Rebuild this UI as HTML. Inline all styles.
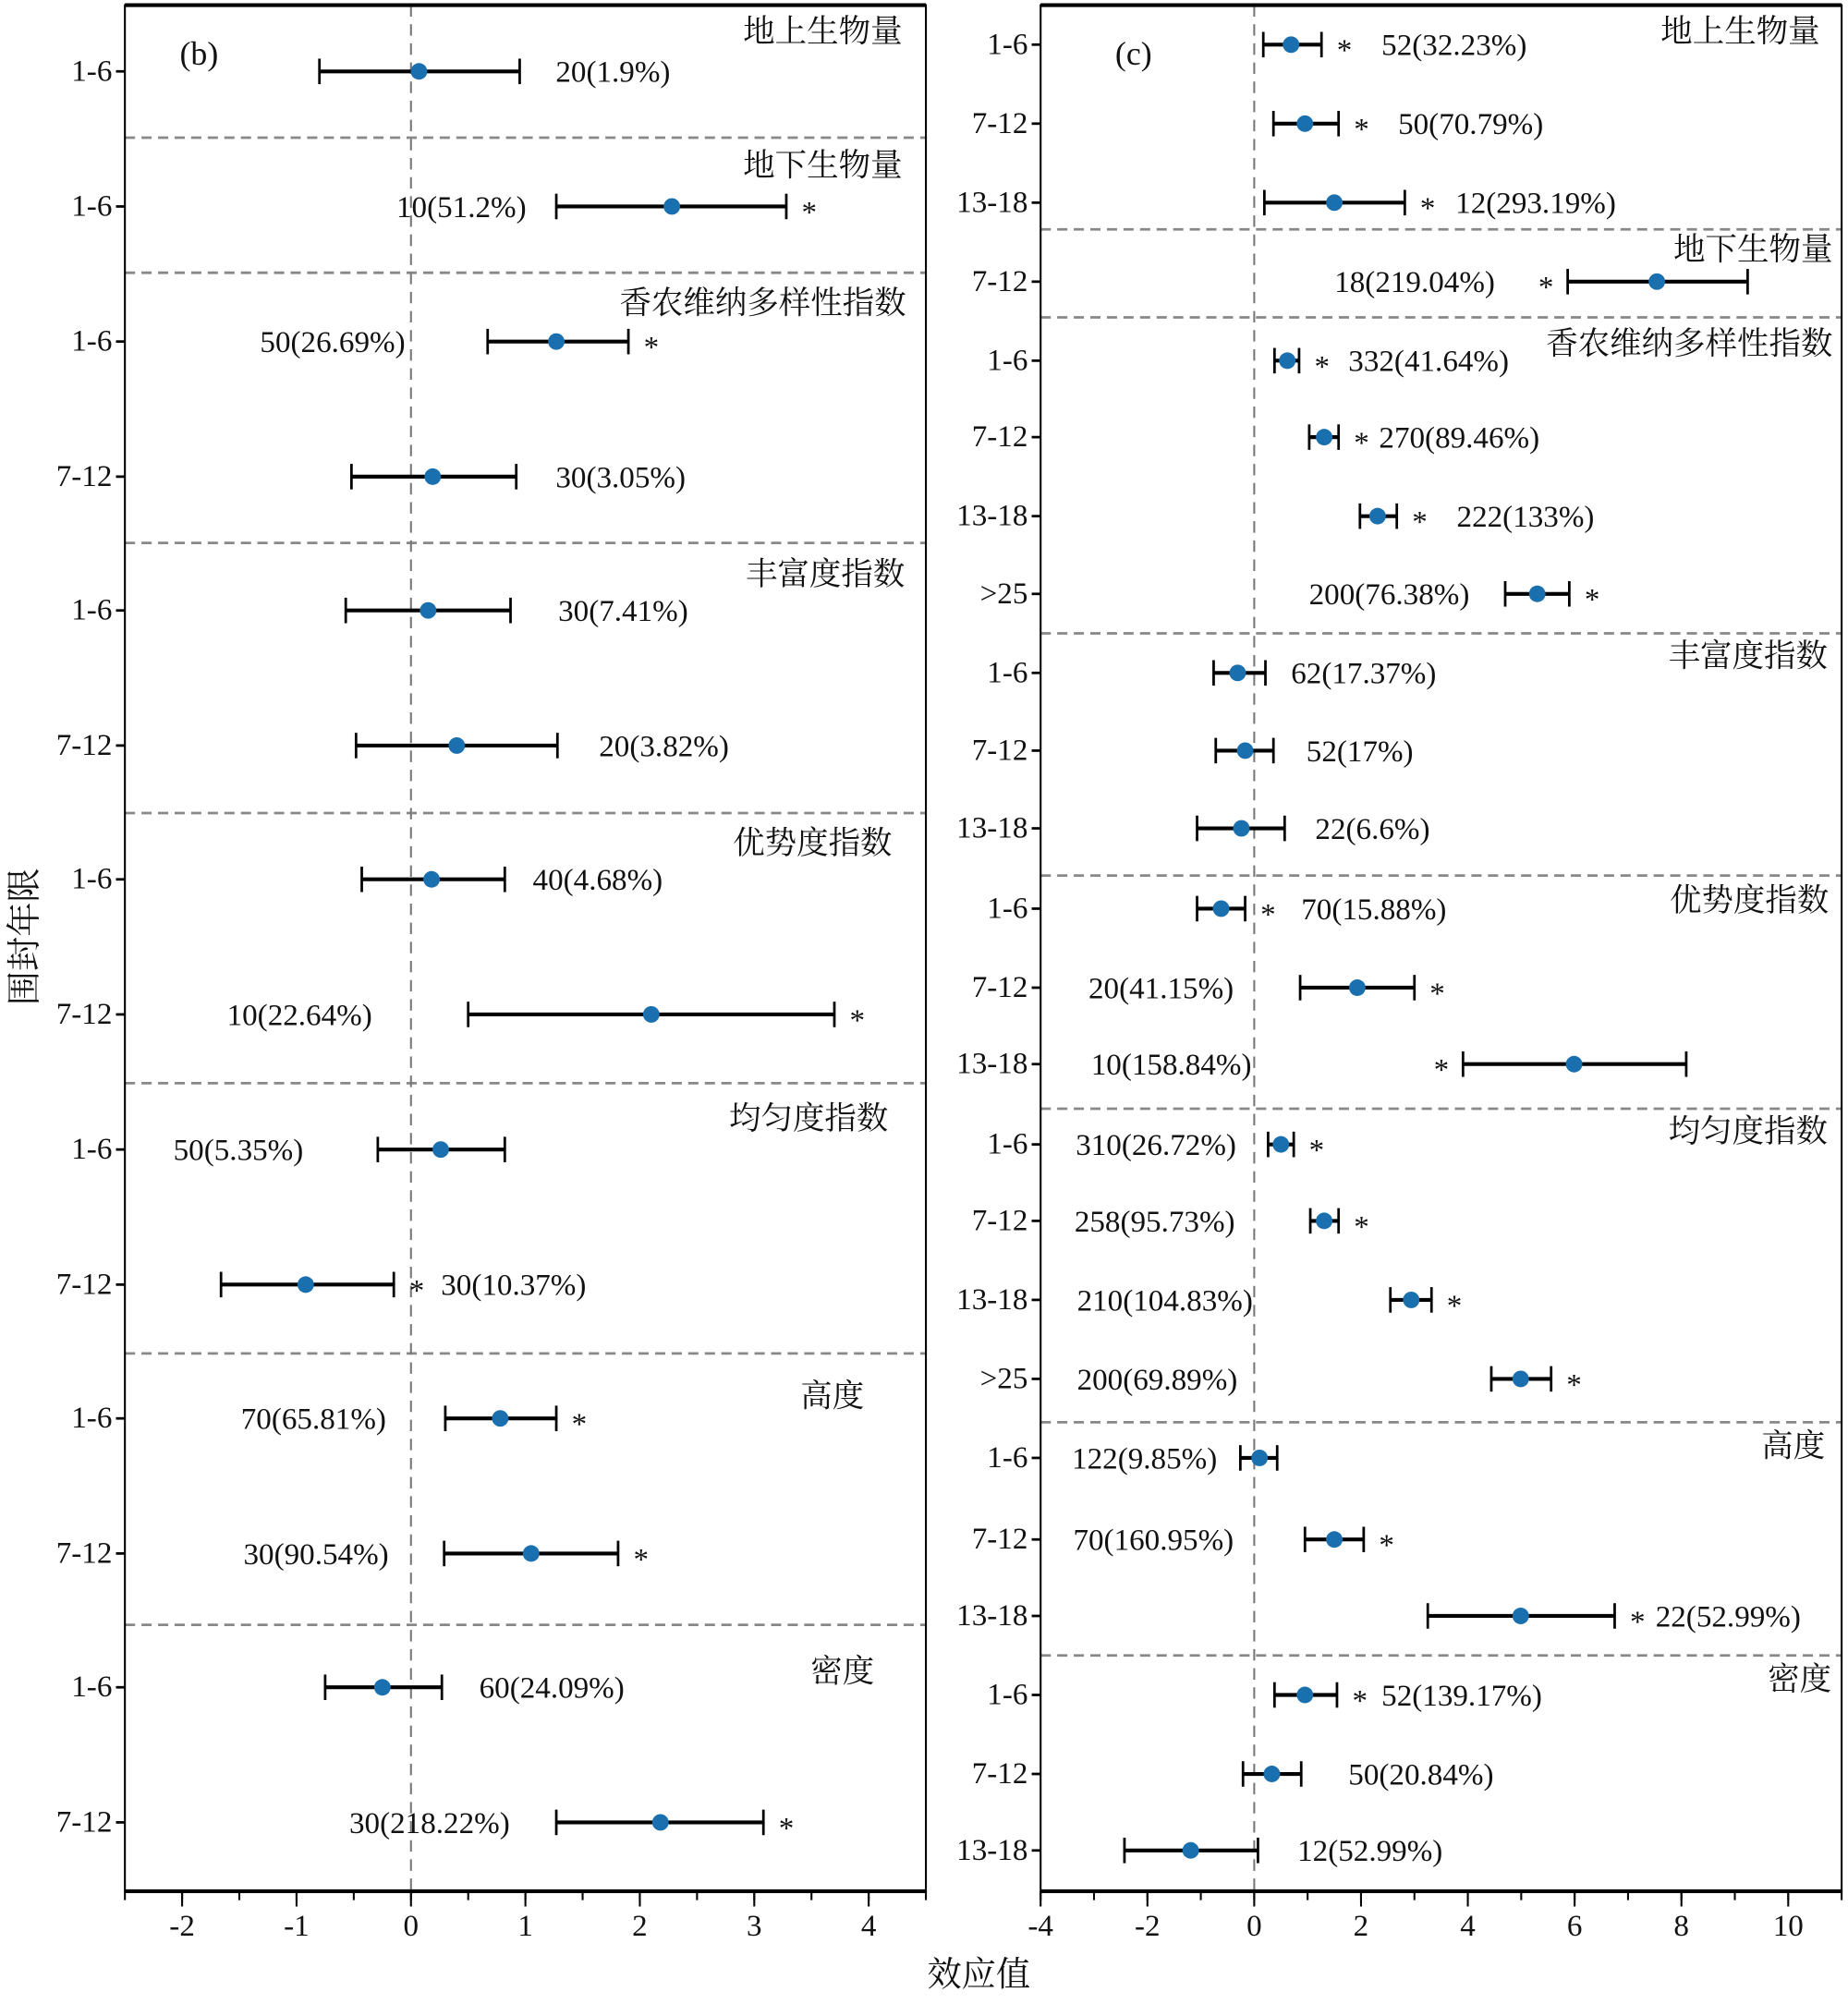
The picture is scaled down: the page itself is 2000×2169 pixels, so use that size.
<!DOCTYPE html>
<html><head><meta charset="utf-8"><style>
body{margin:0;background:#fff}
svg{display:block}
text{font-family:"Liberation Serif","Noto Serif CJK SC","Noto Sans CJK SC",serif;fill:#111}
</style></head><body>
<svg id="chart" width="2000" height="2169" viewBox="0 0 1450 1572.5" xmlns="http://www.w3.org/2000/svg"></svg>
<script>
// ---------- Panel b data ----------
const bCats=["1-6","1-6","1-6","7-12","1-6","7-12","1-6","7-12","1-6","7-12","1-6","7-12","1-6","7-12"];
const bMean=[0.07,2.28,1.27,0.19,0.15,0.4,0.18,2.1,0.26,-0.92,0.78,1.05,-0.25,2.18];
const bLo=[-0.8,1.27,0.67,-0.52,-0.57,-0.48,-0.43,0.5,-0.29,-1.66,0.3,0.29,-0.75,1.27];
const bHi=[0.95,3.28,1.9,0.92,0.87,1.28,0.82,3.7,0.82,-0.15,1.27,1.81,0.27,3.08];
const bLabels=["20(1.9%)","10(51.2%)","50(26.69%)","30(3.05%)","30(7.41%)","20(3.82%)","40(4.68%)","10(22.64%)","50(5.35%)","30(10.37%)","70(65.81%)","30(90.54%)","60(24.09%)","30(218.22%)"];
const bStar=[0,1,1,0,0,0,0,1,0,1,1,1,0,1];
const bGroups=["地上生物量","地下生物量","香农维纳多样性指数","丰富度指数","优势度指数","均匀度指数","高度","密度"];
const bTicks=[-2,-1,0,1,2,3,4];
// ---------- Panel c data ----------
const cCats=["1-6","7-12","13-18","7-12","1-6","7-12","13-18",">25","1-6","7-12","13-18","1-6","7-12","13-18","1-6","7-12","13-18",">25","1-6","7-12","13-18","1-6","7-12","13-18"];
const cMean=[0.69,0.95,1.5,7.54,0.62,1.31,2.31,5.3,-0.31,-0.17,-0.24,-0.62,1.93,5.99,0.5,1.31,2.94,4.99,0.1,1.5,4.99,0.95,0.33,-1.19];
const cLo=[0.17,0.36,0.19,5.87,0.38,1.03,1.98,4.7,-0.76,-0.72,-1.07,-1.07,0.86,3.91,0.26,1.05,2.55,4.44,-0.26,0.95,3.25,0.38,-0.21,-2.43];
const cHi=[1.26,1.58,2.82,9.24,0.84,1.58,2.67,5.9,0.21,0.36,0.57,-0.17,3.0,8.09,0.74,1.58,3.32,5.56,0.43,2.05,6.75,1.55,0.88,0.07];
const cLabels=["52(32.23%)","50(70.79%)","12(293.19%)","18(219.04%)","332(41.64%)","270(89.46%)","222(133%)","200(76.38%)","62(17.37%)","52(17%)","22(6.6%)","70(15.88%)","20(41.15%)","10(158.84%)","310(26.72%)","258(95.73%)","210(104.83%)","200(69.89%)","122(9.85%)","70(160.95%)","22(52.99%)","52(139.17%)","50(20.84%)","12(52.99%)"];
const cStar=[1,1,1,-1,1,1,1,1,0,0,0,1,1,-1,1,1,1,1,0,1,1,1,0,0];
const cGroups=["地上生物量","地下生物量","香农维纳多样性指数","丰富度指数","优势度指数","均匀度指数","高度","密度"];
const cTicks=[-4,-2,0,2,4,6,8,10];

// ---------- layout (not data) ----------
const bRowY=[56,162,268,374,479,585,690,796,902,1008,1113,1219,1324,1430];
const bLabelX=[[436,"start"],[413,"end"],[318,"end"],[436,"start"],[438,"start"],[470,"start"],[418,"start"],[292,"end"],[238,"end"],[346,"start"],[303,"end"],[305,"end"],[376,"start"],[400,"end"]];
const bSep=[108,214,426,638,850,1062,1275];
const bGroupPos=[[708,25],[708,130],[711,238],[710,451],[700,662],[697,878],[678,1096],[686,1312]];
const cRowY=[35,97,159,221,283,343,405,466,528,589,650,713,775,835,898,958,1020,1082,1144,1208,1268,1330,1392,1452];
const cLabelX=[[1084,"start"],[1097,"start"],[1142,"start"],[1173,"end"],[1058,"start"],[1082,"start"],[1143,"start"],[1153,"end"],[1013,"start"],[1025,"start"],[1032,"start"],[1021,"start"],[968,"end"],[982,"end"],[970,"end"],[969,"end"],[983,"end"],[971,"end"],[955,"end"],[968,"end"],[1299,"start"],[1084,"start"],[1058,"start"],[1018,"start"]];
const cSep=[180,249,497,687,870,1116,1299];
const cGroupPos=[[1428,25],[1438,196],[1438,270],[1434,515],[1435,707],[1434,888],[1432,1135],[1437,1318]];

const svg=document.getElementById('chart');
const NS="http://www.w3.org/2000/svg";
function mk(tag,attrs,parent){const e=document.createElementNS(NS,tag);for(const k in attrs)e.setAttribute(k,attrs[k]);(parent||svg).appendChild(e);return e;}

function panel(P){
  const g=mk('g',{});
  
  
  const x=v=>P.x0+(v-P.vmin)*(P.x1-P.x0)/(P.vmax-P.vmin);
  const top=4,bot=1484;
  P.sep.forEach(y=>{const l=mk('line',{x1:P.x0,x2:P.x1,y1:y,y2:y,stroke:'#888','stroke-width':2,'stroke-dasharray':'8,5'},g);
    
    });
  const z=mk('line',{x1:x(0),x2:x(0),y1:top,y2:bot,stroke:'#777','stroke-width':1.5,'stroke-dasharray':'9,6'},g);
  
  
  const f=mk('rect',{x:P.x0,y:top,width:P.x1-P.x0,height:bot-top,fill:'none',stroke:'#000','stroke-width':1.5},g);
  
  
  mk('line',{x1:P.x0,x2:P.x1,y1:top,y2:top,stroke:'#000','stroke-width':3},g);
  mk('line',{x1:P.x0,x2:P.x1,y1:bot,y2:bot,stroke:'#000','stroke-width':3},g);
  for(let v=P.vmin;v<=P.vmax+1e-9;v+=P.minor){mk('line',{x1:x(v),x2:x(v),y1:bot,y2:bot+7,stroke:'#000','stroke-width':1.5},g);}
  P.ticks.forEach(v=>{mk('line',{x1:x(v),x2:x(v),y1:bot,y2:bot+12,stroke:'#000','stroke-width':1.5},g);
    const t=mk('text',{x:x(v),y:bot+35,'text-anchor':'middle','font-size':24},g);t.textContent=(v<0?'-'+(-v):v);
    
    });
  P.cats.forEach((c,i)=>{
    const y=P.rowY[i];
    mk('line',{x1:P.x0-7,x2:P.x0,y1:y,y2:y,stroke:'#000','stroke-width':2},g);
    const t=mk('text',{x:P.x0-10,y:y,'text-anchor':'end','dominant-baseline':'central','font-size':24},g);t.textContent=c;
    
    
    const eb=mk('g',{},g);
    
    
    mk('line',{x1:x(P.lo[i]),x2:x(P.hi[i]),y1:y,y2:y,stroke:'#000','stroke-width':3},eb);
    mk('line',{x1:x(P.lo[i]),x2:x(P.lo[i]),y1:y-10,y2:y+10,stroke:'#000','stroke-width':2},eb);
    mk('line',{x1:x(P.hi[i]),x2:x(P.hi[i]),y1:y-10,y2:y+10,stroke:'#000','stroke-width':2},eb);
    const d=mk('circle',{cx:x(P.mean[i]),cy:y,r:6.5,fill:'#1a6fae'},g);
    
    
    const lt=mk('text',{x:P.labelX[i][0],y:y+1,'text-anchor':P.labelX[i][1],'dominant-baseline':'central','font-size':24},g);lt.textContent=P.labels[i];
    
    
    const s=P.star[i];
    if(s){const sx=s>0?x(P.hi[i])+18:x(P.lo[i])-17;
      const st=mk('text',{x:sx,y:y+5,'text-anchor':'middle','dominant-baseline':'central','font-size':24},g);st.textContent='*';
      
      }
  });
  P.groups.forEach((gname,i)=>{
    const t=mk('text',{x:P.groupPos[i][0],y:P.groupPos[i][1],'text-anchor':'end','dominant-baseline':'central','font-size':25},g);t.textContent=gname;
    
    });
  const pl=mk('text',{x:P.tag[1],y:42,'dominant-baseline':'central','font-size':26},g);pl.textContent=P.tag[0];
  
  
}
panel({name:'panel-b',x0:98,x1:726.5,vmin:-2.5,vmax:4.5,minor:0.5,ticks:bTicks,cats:bCats,mean:bMean,lo:bLo,hi:bHi,labels:bLabels,star:bStar,groups:bGroups,rowY:bRowY,labelX:bLabelX,sep:bSep,groupPos:bGroupPos,tag:['(b)',141]});
panel({name:'panel-c',x0:816.5,x1:1445,vmin:-4,vmax:11,minor:1,ticks:cTicks,cats:cCats,mean:cMean,lo:cLo,hi:cHi,labels:cLabels,star:cStar,groups:cGroups,rowY:cRowY,labelX:cLabelX,sep:cSep,groupPos:cGroupPos,tag:['(c)',875]});
const yt=mk('text',{x:0,y:0,'text-anchor':'middle','dominant-baseline':'central','font-size':27,transform:'translate(20,735) rotate(-90)'});yt.textContent='围封年限';


const xt=mk('text',{x:768,y:1550,'text-anchor':'middle','dominant-baseline':'central','font-size':27});xt.textContent='效应值';


</script>
</body></html>
